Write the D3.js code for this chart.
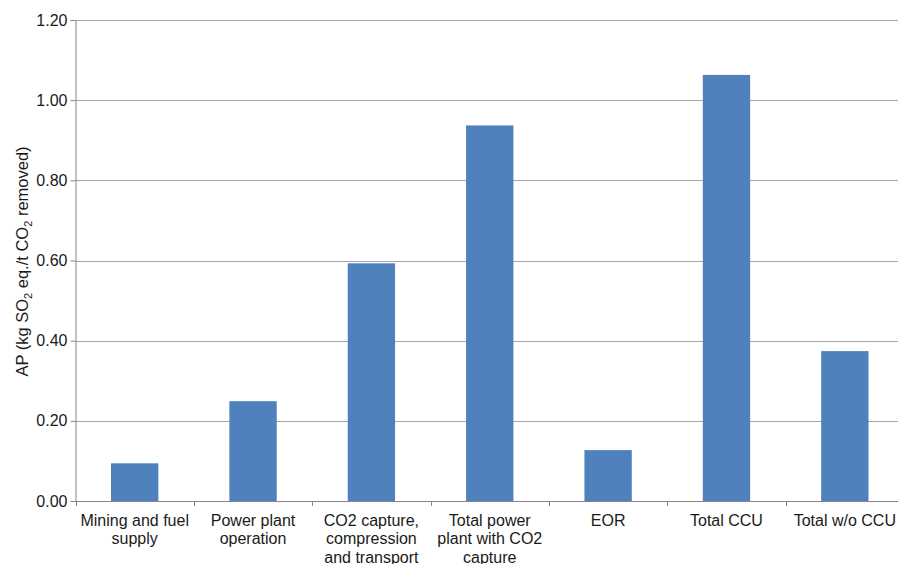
<!DOCTYPE html>
<html><head><meta charset="utf-8">
<script src="https://cdn.jsdelivr.net/npm/d3@7"></script>
<style>
body{margin:0;background:#fff;}
svg{display:block;font-family:"Liberation Sans",Arial,sans-serif;}
</style></head>
<body><svg id="c" width="898" height="564"></svg>
<script>
const categories = [
  ["Mining and fuel","supply"],
  ["Power plant","operation"],
  ["CO2 capture,","compression","and transport"],
  ["Total power","plant with CO2","capture"],
  ["EOR"],
  ["Total CCU"],
  ["Total w/o CCU"]
];
const values = [0.094, 0.249, 0.593, 0.937, 0.127, 1.063, 0.374];
const yTicks = [0, 0.2, 0.4, 0.6, 0.8, 1.0, 1.2];

const svg = d3.select("#c");
const mLeft = 75.5, mRight = 904, mTop = 20, mBottom = 501;
const ids = categories.map((c,i)=>i);
const x = d3.scaleBand().domain(ids).range([mLeft, mRight]).paddingInner(0.6).paddingOuter(0.3);
const y = d3.scaleLinear().domain([0, 1.2]).range([mBottom, mTop]);

// gridlines
svg.append("g").selectAll("line").data(yTicks.filter(d=>d>0)).join("line")
  .attr("x1", mLeft).attr("x2", 898)
  .attr("y1", d=>Math.round(y(d))+0.5).attr("y2", d=>Math.round(y(d))+0.5)
  .attr("stroke", "#a6a6a6").attr("stroke-width", 1);

// bars
svg.append("g").selectAll("rect").data(values).join("rect")
  .attr("x", (d,i)=>x(i)).attr("width", x.bandwidth())
  .attr("y", d=>y(d)).attr("height", d=>y(0)-y(d))
  .attr("fill", "#4f81bd");

// y axis
const yAxis = d3.axisLeft(y).tickValues(yTicks).tickFormat(d3.format(".2f")).tickSize(5).tickPadding(3);
const gy = svg.append("g").attr("transform", `translate(${mLeft},0)`).call(yAxis);
gy.select(".domain").attr("stroke", "#868686");
gy.selectAll(".tick line").attr("stroke", "#868686");
gy.selectAll(".tick text").attr("font-size", 16).attr("fill", "#1a1a1a").attr("font-family","Liberation Sans, Arial, sans-serif");

// x axis
const xb = d3.scaleBand().domain(ids).range([mLeft, mRight]);
const xAxis = d3.axisBottom(xb).tickSize(0).tickFormat("");
const gx = svg.append("g").attr("transform", `translate(0,${mBottom})`).call(xAxis);
gx.select(".domain").attr("stroke", "#868686");
// boundary ticks
const bounds = ids.map(i=>xb(i)).concat([mRight]);
gx.selectAll("line.bt").data(bounds).join("line").attr("class","bt")
  .attr("x1", d=>Math.round(d)+0.5).attr("x2", d=>Math.round(d)+0.5)
  .attr("y1", 0).attr("y2", 5).attr("stroke", "#868686");

// category labels
const lab = svg.append("g").selectAll("text").data(categories).join("text")
  .attr("text-anchor", "middle").attr("font-size", 16).attr("fill", "#1a1a1a")
  .attr("transform", (d,i)=>`translate(${xb(i)+xb.bandwidth()/2},${mBottom+25})`);
lab.selectAll("tspan").data(d=>d).join("tspan")
  .attr("x", 0).attr("y", (d,j)=>j*18.3).text(d=>d);

// y label
const yl = svg.append("text").attr("font-size", 16.5).attr("fill", "#1a1a1a")
  .attr("text-anchor", "middle")
  .attr("transform", `translate(28,${(mTop+mBottom)/2 + 1}) rotate(-90)`);
yl.append("tspan").text("AP (kg SO");
yl.append("tspan").attr("font-size", 11).attr("dy", 4).text("2");
yl.append("tspan").attr("dy", -4).text(" eq./t CO");
yl.append("tspan").attr("font-size", 11).attr("dy", 4).text("2");
yl.append("tspan").attr("dy", -4).text(" removed)");
</script></body></html>
